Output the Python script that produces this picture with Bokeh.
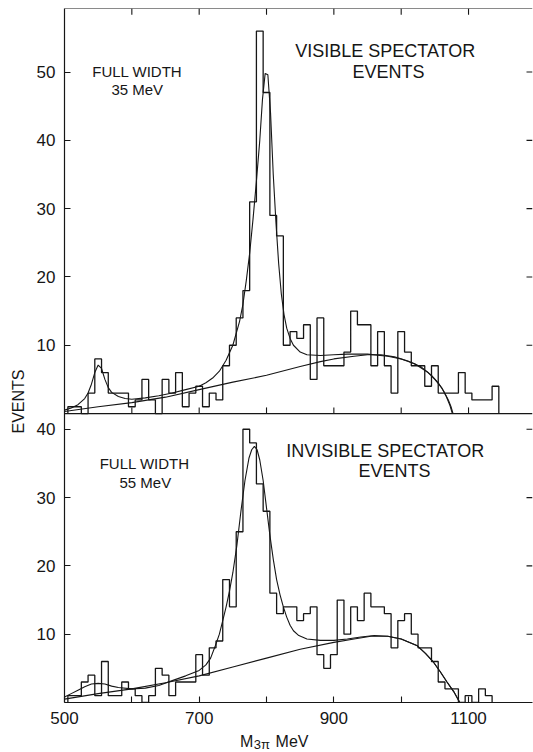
from bokeh.plotting import figure
from bokeh.layouts import column
from bokeh.models import Range1d, LinearAxis, FixedTicker, CustomJSTickFormatter, Label, Span, Title
from bokeh.core.properties import value
from bokeh.embed import file_html
from bokeh.resources import INLINE

# ---------------- data ----------------
# histogram bins: 10 MeV wide, centred on these masses
top_bin_centers = list(range(510, 1150, 10))
top_counts = [1, 1, 0, 3, 8, 6, 3, 3, 3, 1,
              2, 5, 2, 0, 5, 3, 6, 1, 3, 4,
              1, 3, 2, 7, 10, 14, 18, 31, 56, 47,
              29, 26, 10, 12, 11, 13, 5, 14, 7, 7,
              7, 9, 15, 13, 13, 7, 12, 7, 3, 12,
              9, 7, 7, 4, 7, 3, 3, 3, 6, 3,
              2, 2, 2, 4]

bottom_bin_centers = list(range(510, 1140, 10))
bottom_counts = [1, 1, 3, 4, 1, 6, 1, 1, 3, 2,
                 1, 0, 1, 5, 4, 1, 3, 3, 3, 7,
                 4, 8, 9, 18, 14, 25, 40, 38, 32, 28,
                 16, 13, 14, 14, 12, 13, 14, 7, 5, 7,
                 15, 10, 14, 12, 16, 14, 14, 13, 8, 12,
                 13, 10, 8, 8, 6, 3, 2, 2, 0, 1,
                 0, 2, 1]

# fitted curves (visible spectator events)
top_fit_mass = [500, 510, 520, 530, 535, 540, 545, 550, 555, 560, 565, 570, 580, 590,
                600, 620, 640, 660, 680, 700, 710, 720, 730, 740, 750, 760, 765, 770,
                775, 780, 785, 790, 794, 798, 802, 806, 810, 814, 818, 822, 826, 830,
                835, 840, 850, 860, 880, 900, 920, 950, 980, 1000, 1020, 1040, 1050,
                1060, 1067, 1072, 1076]
top_fit_events = [0.5, 0.8, 1.3, 2.2, 3.0, 4.3, 6.0, 7.1, 6.6, 5.0, 3.8, 3.1, 2.5, 2.2,
                  2.1, 2.3, 2.6, 3.0, 3.5, 4.0, 4.5, 5.2, 6.2, 7.8, 10.0, 13.5, 16.0, 19.5,
                  23.5, 28.5, 34.0, 40.0, 46.0, 49.8, 49.6, 44.0, 35.0, 28.0, 22.0, 17.5,
                  14.5, 12.5, 11.0, 10.0, 9.0, 8.6, 8.5, 8.6, 8.7, 8.7, 8.4, 8.0, 7.3, 6.0,
                  5.0, 3.8, 2.5, 1.3, 0.0]
top_bg_mass = [500, 550, 600, 650, 700, 750, 800, 850, 880, 900, 930, 950, 970, 990,
               1010, 1030, 1045, 1055, 1063, 1070, 1074, 1077]
top_bg_events = [0.3, 1.0, 1.6, 2.4, 3.5, 4.6, 5.6, 6.9, 7.6, 8.0, 8.4, 8.6, 8.6, 8.3,
                 7.7, 6.8, 5.6, 4.5, 3.3, 2.0, 1.0, 0.0]

# fitted curves (invisible spectator events)
bottom_fit_mass = [500, 510, 520, 530, 540, 550, 560, 570, 580, 600, 620, 640, 660, 680,
                   700, 710, 717, 724, 730, 735, 740, 745, 750, 756, 762, 768, 774, 778,
                   782, 786, 790, 795, 800, 805, 810, 815, 820, 825, 830, 835, 840, 848,
                   860, 880, 900, 920, 940, 960, 980, 1000, 1024, 1036, 1048, 1058, 1068,
                   1078, 1087]
bottom_fit_events = [0.8, 1.3, 1.8, 2.3, 2.7, 2.8, 2.7, 2.4, 2.2, 2.0, 2.1, 2.5, 3.2, 3.9,
                     4.7, 5.5, 6.5, 8.3, 10.0, 12.0, 14.0, 16.3, 19.0, 23.0, 28.0, 32.5,
                     35.8, 37.0, 37.5, 37.0, 35.5, 32.5, 28.5, 24.5, 21.0, 18.0, 15.8, 14.0,
                     12.5, 11.3, 10.5, 9.8, 9.3, 9.1, 9.1, 9.3, 9.6, 9.8, 9.7, 9.3, 8.3,
                     7.2, 5.9, 4.5, 3.0, 1.6, 0.0]
bottom_bg_mass = [500, 550, 600, 650, 700, 750, 800, 850, 900, 930, 955, 980, 1000, 1024,
                  1036, 1048, 1058, 1068, 1078, 1087]
bottom_bg_events = [0.5, 1.3, 2.0, 2.9, 3.9, 5.2, 6.5, 7.8, 8.8, 9.3, 9.7, 9.7, 9.3, 8.3,
                    7.2, 5.9, 4.5, 3.0, 1.6, 0.0]

x_ticks = [500, 600, 700, 800, 900, 1000, 1100]
x_tick_labels = {500: "500", 600: "", 700: "700", 800: "", 900: "900", 1000: "", 1100: "1100"}
top_y_ticks = [10, 20, 30, 40, 50]
bottom_y_ticks = [10, 20, 30, 40]

# ---------------- layout constants ----------------
BIN_HALF = 5
BOTTOM_SPAN = 42.3      # events shown in lower panel
TOTAL_SPAN = 101.6      # events over the full frame height
X_END = 1195
FONT = "Liberation Sans"
INK = "#161616"
TICK_X = 8.9            # 6 px in MeV
TICK_Y = 0.9            # 6 px in events

xr = Range1d(500, X_END)
p = figure(width=533, height=727, output_backend="svg", toolbar_location=None,
           x_range=xr, y_range=Range1d(0, TOTAL_SPAN),
           x_axis_type=None, y_axis_type=None,
           min_border_left=62, min_border_right=1, min_border_top=8, min_border_bottom=25)
p.extra_y_ranges = {"top": Range1d(-BOTTOM_SPAN, TOTAL_SPAN - BOTTOM_SPAN)}
p.outline_line_color = None
p.background_fill_color = "white"
p.border_fill_color = "white"


def stairs(centers, counts):
    xs = [centers[0] - BIN_HALF]
    ys = [0]
    for c, n in zip(centers, counts):
        xs += [c - BIN_HALF, c + BIN_HALF]
        ys += [n, n]
    xs.append(centers[-1] + BIN_HALF)
    ys.append(0)
    return xs, ys


# histograms
tx, ty = stairs(top_bin_centers, top_counts)
p.line(tx, ty, y_range_name="top", line_color=INK, line_width=1.3)
bx, by = stairs(bottom_bin_centers, bottom_counts)
p.line(bx, by, line_color=INK, line_width=1.3)

# curves
p.line(top_fit_mass, top_fit_events, y_range_name="top", line_color=INK, line_width=1.1)
p.line(top_bg_mass, top_bg_events, y_range_name="top", line_color=INK, line_width=1.1)
p.line(bottom_fit_mass, bottom_fit_events, line_color=INK, line_width=1.1)
p.line(bottom_bg_mass, bottom_bg_events, line_color=INK, line_width=1.1)

# ---------------- axes ----------------
common = dict(axis_line_color=INK, axis_line_width=1.2, major_tick_line_color=INK,
              major_tick_line_width=1.1, major_tick_in=6, major_tick_out=0,
              minor_tick_line_color=None)

below = LinearAxis(ticker=FixedTicker(ticks=x_ticks), major_label_overrides=x_tick_labels,
                   major_label_standoff=9, major_label_text_font=FONT,
                   major_label_text_font_size="17px", major_label_text_color=INK, **common)
p.add_layout(below, "below")

left_positions = bottom_y_ticks + [BOTTOM_SPAN + v for v in top_y_ticks]
fmt = CustomJSTickFormatter(args=dict(off=BOTTOM_SPAN),
                            code="return String(Math.round(tick > off ? tick - off : tick));")
left = LinearAxis(ticker=FixedTicker(ticks=left_positions), formatter=fmt,
                  major_label_standoff=9, major_label_text_font=FONT,
                  major_label_text_font_size="17px", major_label_text_color=INK, **common)
p.add_layout(left, "left")

# y axis title, straddling the two panels
p.add_layout(Title(text="EVENTS", align="left", offset=269, standoff=14,
                   text_font=FONT, text_font_size="16px", text_font_style="normal",
                   text_color=INK), "left")

# frame top line and divider between the panels
p.add_layout(Span(location=TOTAL_SPAN, dimension="width", line_color=INK, line_width=1.2))
p.add_layout(Span(location=0, dimension="width", y_range_name="top",
                  line_color=INK, line_width=1.2))

# inward ticks: top edge, divider, right edge
inner_x = x_ticks[1:]
p.segment(x0=inner_x, y0=[TOTAL_SPAN] * len(inner_x), x1=inner_x,
          y1=[TOTAL_SPAN - TICK_Y] * len(inner_x), line_color=INK, line_width=1.1)
p.segment(x0=inner_x, y0=[0] * len(inner_x), x1=inner_x, y1=[TICK_Y] * len(inner_x),
          y_range_name="top", line_color=INK, line_width=1.1)
p.segment(x0=[X_END - TICK_X] * len(left_positions), y0=left_positions,
          x1=[X_END] * len(left_positions), y1=left_positions, line_color=INK, line_width=1.1)

# ---------------- panel texts ----------------
def txt(x, y, s, size, rng="default"):
    p.add_layout(Label(x=x, y=y, text=s, y_range_name=rng, text_font=FONT,
                       text_font_size=size, text_color=INK, text_align="center",
                       text_baseline="bottom"))

txt(608, 48.8, "FULL WIDTH", "15px", "top")
txt(608, 46.2, "35 MeV", "15px", "top")
txt(980, 51.6, "VISIBLE  SPECTATOR", "18px", "top")
txt(981, 48.5, "EVENTS", "18px", "top")

txt(619, 33.7, "FULL WIDTH", "15px")
txt(620, 31.0, "55 MeV", "15px")
txt(980, 35.4, "INVISIBLE  SPECTATOR", "18px")
txt(990, 32.5, "EVENTS", "18px")

# ---------------- x axis title  M_{3pi} MeV ----------------
xt = figure(width=533, height=25, output_backend="svg", toolbar_location=None,
            x_range=xr, y_range=Range1d(0, 25), x_axis_type=None, y_axis_type=None,
            min_border_left=62, min_border_right=1, min_border_top=0, min_border_bottom=0)
xt.outline_line_color = None
xt.background_fill_color = "white"
xt.border_fill_color = "white"
xt.text(x=[760.7, 813.5], y=[11.5, 11.5], text=["M", "MeV"], text_font=value(FONT),
        text_font_size="16px", text_color=INK, text_baseline="alphabetic", text_align="left")
xt.text(x=[781.0], y=[8.5], text=["3\u03c0"], text_font=value(FONT),
        text_font_size="13px", text_color=INK, text_baseline="alphabetic", text_align="left")

layout = column(p, xt, spacing=0)
open("out.html", "w").write(file_html(layout, INLINE))
